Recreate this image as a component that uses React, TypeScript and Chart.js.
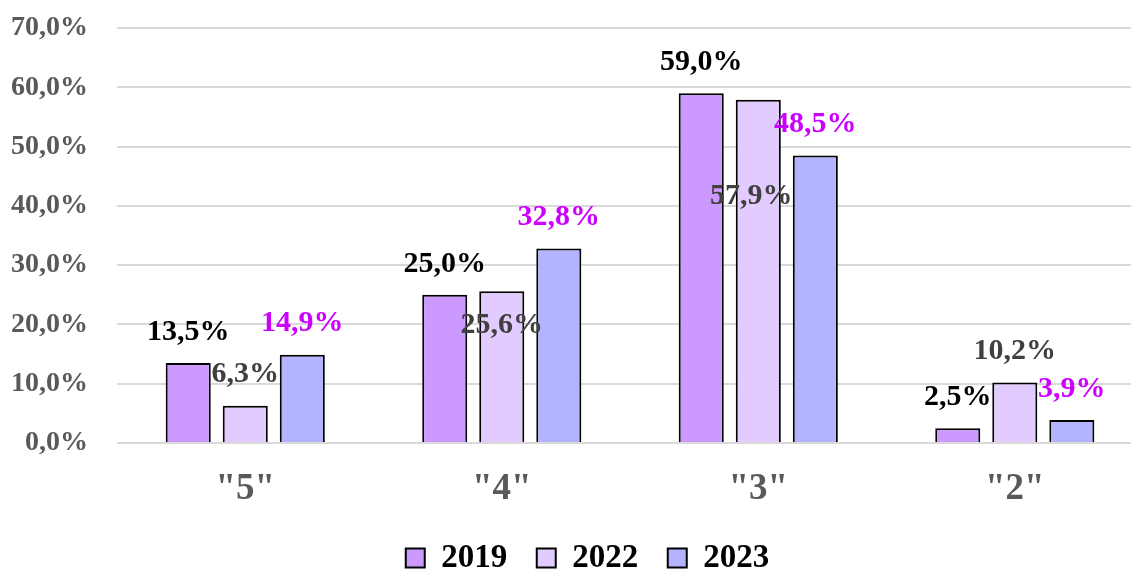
import React, { useEffect, useRef } from "react";
import { Chart, registerables } from "chart.js";

Chart.register(...registerables);

const categories = ['"5"', '"4"', '"3"', '"2"'];
const seriesNames = ["2019", "2022", "2023"];
const values2019 = [13.5, 25.0, 59.0, 2.5];
const values2022 = [6.3, 25.6, 57.9, 10.2];
const values2023 = [14.9, 32.8, 48.5, 3.9];
const yTicks = [0, 10, 20, 30, 40, 50, 60, 70];

const barColors = ["#CC99FF", "#E2CCFF", "#B3B3FF"];
const labelColors = ["#000000", "#404040", "#CC00FF"];
// label placement tweaks (px) relative to default "outside end" position
const labelShift: [number, number][][] = [
  [[0, 0], [0, 0], [0, 0], [0, 0]],
  [[0, 0], [0, 65], [-7, 128], [0, 0]],
  [[0, 0], [0, 0], [0, 0], [0, 0]],
];

const FONT = "'Liberation Serif', 'Times New Roman', serif";

const fmt = (v: number) => v.toFixed(1).replace(".", ",") + "%";

const dataLabelPlugin = {
  id: "dataLabels",
  afterDatasetsDraw(chart: any) {
    const ctx = chart.ctx;
    ctx.save();
    ctx.font = `bold 30px ${FONT}`;
    ctx.textAlign = "center";
    ctx.textBaseline = "middle";
    chart.data.datasets.forEach((ds: any, di: number) => {
      const meta = chart.getDatasetMeta(di);
      meta.data.forEach((el: any, i: number) => {
        const [dx, dy] = labelShift[di][i];
        ctx.fillStyle = labelColors[di];
        ctx.fillText(fmt(ds.data[i].y), el.x + dx, el.y - 31 + dy);
      });
    });
    ctx.restore();
  },
};

// shift the legend a little to the right, as in the reference
const legendShiftPlugin = {
  id: "legendShift",
  afterLayout(chart: any) {
    if (chart.legend) {
      chart.legend.left += 44;
    }
  },
};

export default function App() {
  const ref = useRef<HTMLCanvasElement>(null);
  useEffect(() => {
    if (!ref.current) return;
    const allSeries = [values2019, values2022, values2023];
    const chart = new Chart(ref.current, {
      type: "bar",
      data: {
        datasets: allSeries.map((vals, si) => ({
          label: seriesNames[si],
          data: vals.map((v, i) => ({ x: i, y: v })),
          backgroundColor: barColors[si],
          borderColor: "#000000",
          borderWidth: 2,
          categoryPercentage: 0.667,
          barPercentage: 0.79,
        })),
      },
      options: {
        responsive: false,
        animation: false,
        layout: { padding: { left: 0, top: 28, right: 0, bottom: 0 } },
        plugins: {
          tooltip: { enabled: false },
          legend: {
            position: "bottom",
            maxHeight: 58,
            labels: {
              boxWidth: 19,
              boxHeight: 19,
              padding: 29.5,
              color: "#000000",
              font: { family: FONT, size: 33, weight: "bold" },
            },
          },
        },
        scales: {
          x: {
            type: "linear",
            offset: false,
            min: -0.5,
            max: 3.453,
            afterBuildTicks: (s: any) => {
              s.ticks = categories.map((_, i) => ({ value: i }));
            },
            afterFit: (s: any) => {
              s.height = 69;
            },
            grid: { display: false, drawTicks: false },
            border: { display: false },
            ticks: {
              padding: 24,
              color: "#595959",
              font: { family: FONT, size: 37, weight: "bold" },
              callback: (v: any) => categories[Math.round(Number(v))] ?? "",
            },
          },
          y: {
            min: 0,
            max: 70,
            afterBuildTicks: (s: any) => {
              s.ticks = yTicks.map((v) => ({ value: v }));
            },
            afterFit: (s: any) => {
              s.width = 117;
            },
            grid: {
              color: "#D9D9D9",
              lineWidth: 2,
              drawTicks: true,
              tickLength: 29,
              tickColor: "rgba(0,0,0,0)",
            },
            border: { display: false },
            ticks: {
              padding: 0,
              color: "#595959",
              font: { family: FONT, size: 28, weight: "bold" },
              callback: (v: any) => fmt(Number(v)),
            },
          },
        },
      },
      plugins: [dataLabelPlugin, legendShiftPlugin],
    } as any);
    return () => chart.destroy();
  }, []);
  return (
    <canvas
      ref={ref}
      width={1131}
      height={570}
      style={{ position: "absolute", left: 0, top: 0, display: "block" }}
    />
  );
}
